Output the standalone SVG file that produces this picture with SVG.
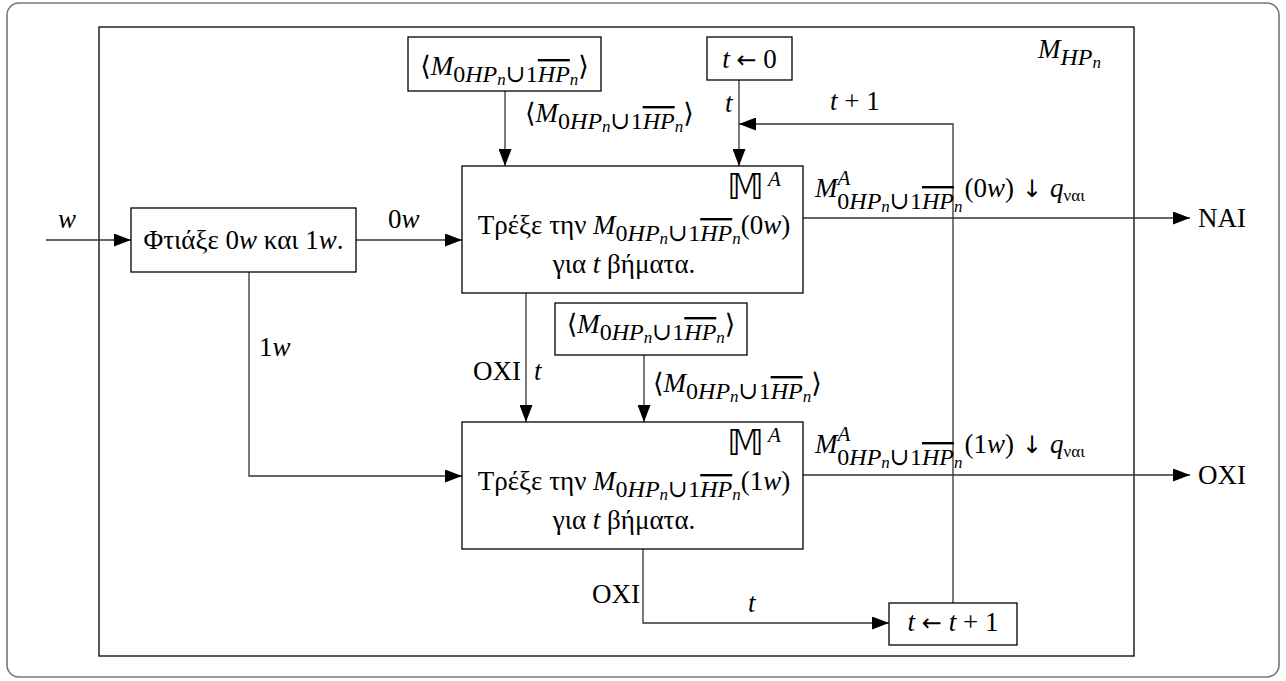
<svg xmlns="http://www.w3.org/2000/svg" width="1286" height="681" viewBox="0 0 1286 681">
<style>
.t{font-family:"Liberation Serif","DejaVu Serif",serif;font-size:27px;fill:#000}
.i{font-style:italic}
.s{font-size:24px}
.ss{font-size:17px}
.sa{font-size:21px}
.q{font-size:17px}
.ov{text-decoration:overline}
.mid{text-anchor:middle}
.arw{font-family:"DejaVu Sans",sans-serif;font-size:24px}
.bx{fill:#fff;stroke:#000;stroke-width:1.3}
.ln{fill:none;stroke:#333;stroke-width:1.3}
.ar{marker-end:url(#ah)}
.bb{font-family:"DejaVu Sans","DejaVu Serif",serif;font-size:36px;fill:#000}
</style>
<defs>
<marker id="ah" viewBox="0 0 17 13" refX="17" refY="6.5" markerWidth="17" markerHeight="13" markerUnits="userSpaceOnUse" orient="auto">
<path d="M0,0 L17,6.5 L0,13 z" fill="#000"/>
</marker>
</defs>
<rect x="7" y="3" width="1272" height="674" rx="12" fill="#fff" stroke="#777" stroke-width="1.6"/>
<g id="frame">
<rect x="99" y="27" width="1035" height="629" fill="none" stroke="#000" stroke-width="1.3"/>
<text class="t" x="1038" y="58"><tspan class="i">M</tspan><tspan class="s i" dy="7">HP</tspan><tspan class="ss i" dy="3">n</tspan></text>
</g>
<g id="connectors">
<path class="ln ar" d="M46,240 H131"/>
<path class="ln ar" d="M356,240 H462"/>
<path class="ln ar" d="M249,272 V476 H462"/>
<path class="ln ar" d="M505,91 V166"/>
<path class="ln ar" d="M739,80 V166"/>
<path class="ln ar" d="M953,603 V124 H739"/>
<path class="ln ar" d="M643,549 V623 H889"/>
<path class="ln ar" d="M526,293 V422"/>
<path class="ln ar" d="M644,355 V422"/>
<path class="ln ar" d="M803,218 H1190"/>
<path class="ln ar" d="M803,475 H1190"/>
<text class="t i" x="58" y="228">w</text>
<text class="t" x="388" y="228">0<tspan class="i">w</tspan></text>
<text class="t" x="259" y="356">1<tspan class="i">w</tspan></text>
<text class="t" x="525" y="122">⟨<tspan class="i">M</tspan><tspan class="s" dy="7">0</tspan><tspan class="s i">HP</tspan><tspan class="ss i" dy="3">n</tspan><tspan class="s" dy="-3">∪1</tspan><tspan class="s i ov">HP</tspan><tspan class="ss i" dy="3">n</tspan><tspan dy="-10">⟩</tspan></text>
<text class="t i" x="725" y="112">t</text>
<text class="t" x="830" y="110"><tspan class="i">t</tspan> + 1</text>
<text class="t" x="473" y="380">ΟΧΙ</text>
<text class="t i" x="534" y="380">t</text>
<text class="t" x="653" y="392">⟨<tspan class="i">M</tspan><tspan class="s" dy="7">0</tspan><tspan class="s i">HP</tspan><tspan class="ss i" dy="3">n</tspan><tspan class="s" dy="-3">∪1</tspan><tspan class="s i ov">HP</tspan><tspan class="ss i" dy="3">n</tspan><tspan dy="-10">⟩</tspan></text>
<text class="t" x="815" y="197"><tspan class="i">M</tspan><tspan class="sa i" dy="-12">A</tspan><tspan class="s" dx="-13" dy="24">0</tspan><tspan class="s i">HP</tspan><tspan class="ss i" dy="3">n</tspan><tspan class="s" dy="-3">∪1</tspan><tspan class="s i ov">HP</tspan><tspan class="ss i" dy="3">n</tspan><tspan dx="2" dy="-15">(0</tspan><tspan class="i">w</tspan>)<tspan class="arw" dx="8">↓</tspan><tspan class="i" dx="8">q</tspan><tspan class="q" dy="4">ναι</tspan></text>
<text class="t" x="815" y="453"><tspan class="i">M</tspan><tspan class="sa i" dy="-12">A</tspan><tspan class="s" dx="-13" dy="24">0</tspan><tspan class="s i">HP</tspan><tspan class="ss i" dy="3">n</tspan><tspan class="s" dy="-3">∪1</tspan><tspan class="s i ov">HP</tspan><tspan class="ss i" dy="3">n</tspan><tspan dx="2" dy="-15">(1</tspan><tspan class="i">w</tspan>)<tspan class="arw" dx="8">↓</tspan><tspan class="i" dx="8">q</tspan><tspan class="q" dy="4">ναι</tspan></text>
<text class="t" x="1198" y="227">ΝΑΙ</text>
<text class="t" x="1198" y="484">ΟΧΙ</text>
<text class="t" x="592" y="603">ΟΧΙ</text>
<text class="t i" x="748" y="612">t</text>
</g>
<g id="make">
<rect class="bx" x="131" y="208" width="225" height="64"/>
<text class="t mid" x="243.5" y="249">Φτιάξε 0<tspan class="i">w</tspan> και 1<tspan class="i">w</tspan>.</text>
</g>
<g id="enc-top">
<rect class="bx" x="408" y="37" width="193" height="54"/>
<text class="t mid" x="504.5" y="75">⟨<tspan class="i">M</tspan><tspan class="s" dy="7">0</tspan><tspan class="s i">HP</tspan><tspan class="ss i" dy="3">n</tspan><tspan class="s" dy="-3">∪1</tspan><tspan class="s i ov">HP</tspan><tspan class="ss i" dy="3">n</tspan><tspan dy="-10">⟩</tspan></text>
</g>
<g id="init">
<rect class="bx" x="707" y="37" width="85" height="43"/>
<text class="t mid" x="749.5" y="68"><tspan class="i">t</tspan> <tspan class="arw">←</tspan> 0</text>
</g>
<g id="run0">
<rect class="bx" x="462" y="166" width="341" height="127"/>
<text class="bb" x="727" y="199">𝕄</text>
<text class="t sa i" x="768" y="186">A</text>
<text class="t mid" x="634" y="234">Τρέξε την <tspan class="i">M</tspan><tspan class="s" dy="7">0</tspan><tspan class="s i">HP</tspan><tspan class="ss i" dy="3">n</tspan><tspan class="s" dy="-3">∪1</tspan><tspan class="s i ov">HP</tspan><tspan class="ss i" dy="3">n</tspan><tspan dy="-10">(0</tspan><tspan class="i">w</tspan>)</text>
<text class="t mid" x="624" y="273">για <tspan class="i">t</tspan> βήματα.</text>
</g>
<g id="enc-mid">
<rect class="bx" x="555" y="303" width="192" height="52"/>
<text class="t mid" x="651" y="333">⟨<tspan class="i">M</tspan><tspan class="s" dy="7">0</tspan><tspan class="s i">HP</tspan><tspan class="ss i" dy="3">n</tspan><tspan class="s" dy="-3">∪1</tspan><tspan class="s i ov">HP</tspan><tspan class="ss i" dy="3">n</tspan><tspan dy="-10">⟩</tspan></text>
</g>
<g id="run1">
<rect class="bx" x="462" y="422" width="341" height="127"/>
<text class="bb" x="727" y="455">𝕄</text>
<text class="t sa i" x="768" y="442">A</text>
<text class="t mid" x="634" y="490">Τρέξε την <tspan class="i">M</tspan><tspan class="s" dy="7">0</tspan><tspan class="s i">HP</tspan><tspan class="ss i" dy="3">n</tspan><tspan class="s" dy="-3">∪1</tspan><tspan class="s i ov">HP</tspan><tspan class="ss i" dy="3">n</tspan><tspan dy="-10">(1</tspan><tspan class="i">w</tspan>)</text>
<text class="t mid" x="624" y="529">για <tspan class="i">t</tspan> βήματα.</text>
</g>
<g id="inc">
<rect class="bx" x="889" y="603" width="128" height="42"/>
<text class="t mid" x="953" y="631"><tspan class="i">t</tspan> <tspan class="arw">←</tspan> <tspan class="i">t</tspan> + 1</text>
</g>
</svg>
